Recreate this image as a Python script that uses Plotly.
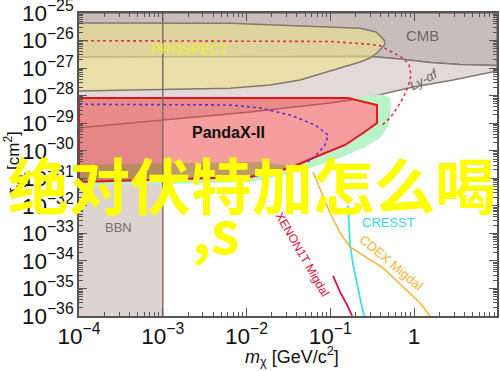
import plotly.graph_objects as go

# ---------------- data (log10 of m_chi [GeV/c^2], log10 of sigma [cm^2]) ----------------
x_range = [-4.0005, 0.99]
y_range = [-36.0005, -24.9995]

bbn_m = [-4, -3, -3, -4]
bbn_s = [-25, -25, -36, -36]
bbn_edge_m = [-3, -3]
bbn_edge_s = [-36, -25]

cmb_m = [-4, -0.525, -0.167, 0.191, 0.549, 0.99, 0.99, -4]
cmb_s = [-26.60, -26.58, -26.67, -26.80, -26.87, -26.91, -25, -25]

lya_m = [-4, -0.525, -0.167, 0.191, 0.549, 0.99, 0.99, 0.466, -0.012, -0.525, -1.003, -1.958, -4]
lya_s = [-26.60, -26.58, -26.67, -26.80, -26.87, -26.91, -27.105, -27.432, -27.686, -28.05, -28.27, -28.59, -29.17]

yel_m = [-4, -2.197, -0.645, -0.454, -0.358, -0.346, -0.430, -0.525, -0.645, -1.003, -1.361, -1.719, -2.197, -4]
yel_s = [-25.363, -25.374, -25.555, -25.69, -25.98, -26.125, -26.416, -26.633, -26.779, -27.105, -27.432, -27.613, -27.733, -27.831]

green_m = [-0.788, -0.406, -0.287, -0.275, -0.299, -0.406, -0.585, -0.884, -1.242, -1.6, -1.958, -4,
           -4, -1.958, -1.481, -1.206, -0.824, -0.609, -0.442, -0.442, -0.788]
green_s = [-28.085, -27.958, -28.049, -28.521, -29.065, -29.537, -29.864, -30.263, -30.626, -30.917, -31.134, -31.279,
           -31.134, -30.953, -30.626, -30.263, -29.791, -29.356, -28.993, -28.339, -28.085]

panda_m = [-4, -0.788, -0.442, -0.442, -0.609, -0.824, -1.206, -1.481, -1.958, -4, -4]
panda_s = [-28.085, -28.085, -28.339, -28.993, -29.356, -29.791, -30.263, -30.626, -30.953, -31.134, -28.085]

olive_m = [-4, -1.839, -1.457, -1.958, -4]
olive_s = [-30.499, -30.408, -30.553, -30.953, -31.134]

prospect_m = [-4, -1.003, -0.525, -0.406, -0.287, -0.131, -0.060, -0.036, -0.072, -0.131, -0.203, -0.287, -0.394]
prospect_s = [-26.005, -26.034, -26.136, -26.187, -26.379, -26.633, -26.887, -27.25, -27.686, -28.085, -28.448, -28.811, -29.102]

blue_m = [-4, -2.197, -1.839, -1.481, -1.182, -1.027, -1.063, -1.146, -1.266]
blue_s = [-28.314, -28.339, -28.448, -28.702, -29.065, -29.428, -29.791, -30.082, -30.408]

xenon_m = [-0.967, -0.884, -0.800, -0.740]
xenon_s = [-34.546, -35.127, -35.599, -36.0]

cresst_m = [-0.788, -0.776, -0.764, -0.728, -0.681, -0.633, -0.597]
cresst_s = [-32.005, -32.695, -33.421, -34.147, -34.873, -35.526, -36.0]

cdex_m = [-1.206, -1.122, -1.003, -0.884, -0.764, -0.561, -0.370, -0.131, 0.072, 0.191]
cdex_s = [-30.771, -31.388, -32.26, -32.985, -33.494, -33.893, -34.256, -34.946, -35.526, -36.0]


def p(v):
    return [10 ** a for a in v]


EDGE = "#85786f"
fig = go.Figure()


def area(m, s, fill, line=None, width=0):
    fig.add_trace(go.Scatter(
        x=p(m), y=p(s), mode="lines", fill="toself", fillcolor=fill,
        line=dict(color=line or "rgba(0,0,0,0)", width=width), hoverinfo="skip"))


def curve(m, s, color, width=1.5, dash="solid"):
    fig.add_trace(go.Scatter(
        x=p(m), y=p(s), mode="lines", line=dict(color=color, width=width, dash=dash),
        hoverinfo="skip"))


area(bbn_m, bbn_s, "#ddd3d1")
area(cmb_m, cmb_s, "#c7bebc", EDGE, 1.5)
area(lya_m, lya_s, "#e2dad8", EDGE, 1.5)
area(yel_m, yel_s, "rgba(242,228,135,0.58)", EDGE, 1.5)
area(green_m, green_s, "#b9f3c8")
area(panda_m, panda_s, "rgba(238,60,60,0.5)")
area(olive_m, olive_s, "rgba(140,150,60,0.5)")
curve(panda_m, panda_s, "#e3141c", 2)
curve(prospect_m, prospect_s, "#e0304a", 1.6, "dot")
curve(blue_m, blue_s, "#5a2fd0", 1.6, "dot")
curve(bbn_edge_m, bbn_edge_s, "#7d6f68", 1.5)
curve(xenon_m, xenon_s, "#d3123f", 1.8)
curve(cresst_m, cresst_s, "#40dde2", 1.8)
curve(cdex_m, cdex_s, "#f1b43a", 1.5)

FONT = "Liberation Sans, Arial, sans-serif"
ann = [
    dict(x=0.096, y=-25.8, text="CMB", font=dict(size=15, color="#6e6462")),
    dict(x=0.119, y=-27.43, text="<i>Ly-αf</i>", textangle=-29, font=dict(size=13, color="#6e6462")),
    dict(x=-2.687, y=-26.307, text="PROSPECT", font=dict(size=14, color="#f2ee30")),
    dict(x=-2.221, y=-29.356, text="<b>PandaX-II</b>", font=dict(size=16, color="#111111")),
    dict(x=-3.534, y=-32.80, text="BBN", font=dict(size=13, color="#7a6e6b")),
    dict(x=-1.337, y=-33.748, text="XENON1T Migdal", textangle=60, font=dict(size=12, color="#d3123f")),
    dict(x=-0.310, y=-32.623, text="CRESST", font=dict(size=13, color="#38d6de")),
    dict(x=-0.275, y=-34.074, text="CDEX Migdal", textangle=40, font=dict(size=13, color="#f1b43a")),
]
for a in ann:
    a.update(xref="x", yref="y", showarrow=False, xanchor="center", yanchor="middle")
    a["font"]["family"] = FONT

L, R, T, B = 79, 3, 13, 55
W, H = 500, 371
pw, ph = W - L - R, H - T - B


def px(xp, yp):
    return (xp - L) / pw, (H - B - yp) / ph


def paper_text(xp, yp, text, font, angle=0):
    tx, ty = px(xp, yp)
    ann.append(dict(xref="paper", yref="paper", x=tx, y=ty, showarrow=False, textangle=angle,
                    xanchor="center", yanchor="middle", text=text, font=font))


paper_text(13, 165, "σ<sub>χn</sub> [cm<sup>2</sup>]", dict(family=FONT, size=17, color="#111"), -90)
paper_text(292, 356, "<i>m</i><sub>χ</sub> [GeV/c<sup>2</sup>]", dict(family=FONT, size=18, color="#111"))
paper_text(252, 183, "绝对伏特加怎么喝",
           dict(family="Noto Sans CJK SC", size=61, color="#ffff00", weight="bold"))
paper_text(216, 229, ",s",
           dict(family="Noto Sans CJK SC", size=58, color="#ffff00", weight="bold"))

axis_common = dict(
    type="log", dtick=1, exponentformat="power", showgrid=False, zeroline=False,
    showline=True, linecolor="#555555", linewidth=1.5, mirror="ticks", automargin=False,
    ticks="inside", ticklen=8, tickcolor="#555555", tickwidth=1, ticklabeloverflow="allow",
    minor=dict(ticks="inside", ticklen=4, tickcolor="#555555", tickwidth=1, showgrid=False),
    tickfont=dict(family=FONT, size=18, color="#111111"),
)

fig.update_layout(
    width=W, height=H, margin=dict(l=L, r=R, t=T, b=B),
    paper_bgcolor="white", plot_bgcolor="white", showlegend=False,
    xaxis=dict(range=x_range, **axis_common),
    yaxis=dict(range=y_range, **axis_common),
    annotations=ann,
)

fig.write_html("out.html", config={"displayModeBar": False},
               post_script="document.body.style.margin='0';document.body.style.overflow='hidden';")
